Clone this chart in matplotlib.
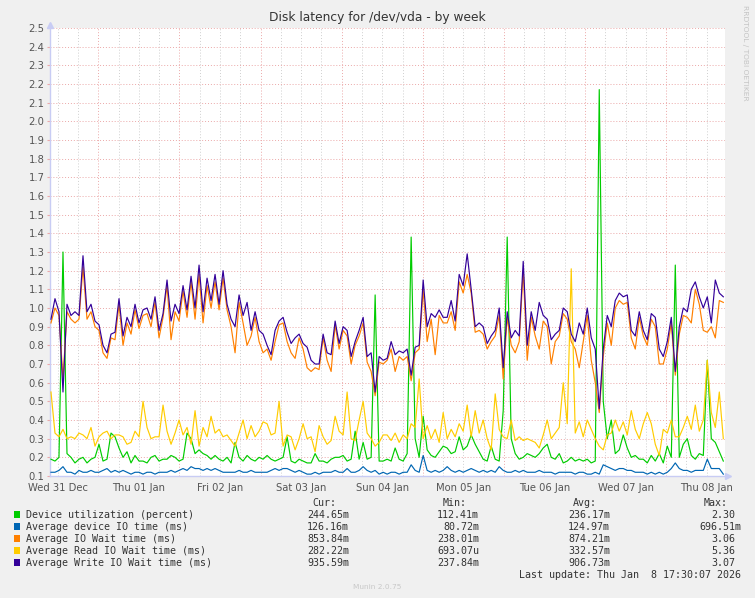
import numpy as np
import matplotlib.pyplot as plt
from matplotlib.patches import Rectangle

# series values (one sample about every 71 minutes)
util = [0.19, 0.18, 0.20, 1.30, 0.22, 0.20, 0.17, 0.19, 0.20, 0.17, 0.19, 0.20, 0.27, 0.18, 0.19,
        0.33, 0.31, 0.25, 0.20, 0.23, 0.17, 0.21, 0.18, 0.18, 0.17, 0.20, 0.21, 0.18, 0.19,
        0.19, 0.21, 0.20, 0.18, 0.19, 0.33, 0.30, 0.22, 0.24, 0.22, 0.21, 0.19, 0.21, 0.19,
        0.18, 0.20, 0.17, 0.28, 0.20, 0.18, 0.21, 0.19, 0.18, 0.20, 0.19, 0.21, 0.19,
        0.18, 0.19, 0.20, 0.31, 0.18, 0.17, 0.19, 0.18, 0.17, 0.17, 0.22, 0.18, 0.18, 0.17,
        0.19, 0.20, 0.20, 0.21, 0.18, 0.19, 0.34, 0.19, 0.28, 0.19, 0.20, 1.07, 0.18, 0.18,
        0.19, 0.18, 0.25, 0.19, 0.18, 0.22, 1.38, 0.30, 0.20, 0.42, 0.24, 0.21, 0.20, 0.23,
        0.26, 0.25, 0.22, 0.23, 0.31, 0.24, 0.26, 0.32, 0.27, 0.23, 0.19, 0.18, 0.26, 0.19,
        0.18, 0.45, 1.38, 0.30, 0.22, 0.19, 0.20, 0.22, 0.21, 0.20, 0.22, 0.25, 0.27, 0.20,
        0.19, 0.22, 0.17, 0.18, 0.20, 0.18, 0.19, 0.18, 0.19, 0.17, 0.18, 2.17, 0.50, 0.30,
        0.40, 0.22, 0.24, 0.32, 0.25, 0.20, 0.21, 0.19, 0.19, 0.17, 0.21, 0.18, 0.22, 0.17,
        0.26, 0.20, 1.23, 0.20, 0.27, 0.30, 0.21, 0.19, 0.22, 0.21, 0.72, 0.30, 0.28, 0.23, 0.18]

dev_io = [0.12, 0.12, 0.13, 0.15, 0.12, 0.12, 0.11, 0.13, 0.12, 0.12, 0.13, 0.12, 0.12, 0.13, 0.14,
          0.12, 0.13, 0.12, 0.13, 0.12, 0.11, 0.12, 0.12, 0.11, 0.12, 0.12, 0.11, 0.12, 0.12,
          0.12, 0.13, 0.12, 0.13, 0.14, 0.13, 0.15, 0.14, 0.14, 0.13, 0.14, 0.13, 0.14, 0.13,
          0.12, 0.12, 0.12, 0.12, 0.13, 0.12, 0.12, 0.13, 0.12, 0.12, 0.12, 0.12, 0.13,
          0.14, 0.13, 0.14, 0.14, 0.13, 0.12, 0.13, 0.12, 0.11, 0.11, 0.12, 0.11, 0.12, 0.12,
          0.12, 0.13, 0.12, 0.12, 0.14, 0.12, 0.12, 0.13, 0.15, 0.13, 0.12, 0.13, 0.11, 0.12,
          0.11, 0.12, 0.12, 0.11, 0.12, 0.12, 0.16, 0.13, 0.12, 0.21, 0.13, 0.12, 0.13, 0.12,
          0.13, 0.15, 0.13, 0.12, 0.13, 0.12, 0.13, 0.14, 0.13, 0.12, 0.13, 0.12, 0.13, 0.12,
          0.15, 0.13, 0.12, 0.12, 0.13, 0.12, 0.13, 0.12, 0.12, 0.12, 0.13, 0.12, 0.12, 0.12,
          0.11, 0.12, 0.12, 0.12, 0.12, 0.11, 0.12, 0.12, 0.11, 0.11, 0.12, 0.11, 0.16, 0.15,
          0.14, 0.13, 0.14, 0.14, 0.13, 0.13, 0.12, 0.12, 0.12, 0.11, 0.12, 0.11, 0.12, 0.11,
          0.12, 0.14, 0.17, 0.14, 0.13, 0.13, 0.12, 0.13, 0.13, 0.13, 0.19, 0.14, 0.14, 0.14, 0.11]

io_wait = [0.92, 1.00, 0.96, 0.62, 0.98, 0.94, 0.92, 0.94, 1.22, 0.94, 0.98, 0.90, 0.88, 0.76, 0.73,
           0.84, 0.83, 1.02, 0.80, 0.92, 0.86, 0.99, 0.89, 0.96, 0.97, 0.90, 1.03, 0.84, 0.95,
           1.12, 0.83, 0.98, 0.93, 1.09, 0.95, 1.14, 0.94, 1.18, 0.92, 1.12, 1.00, 1.14, 0.99,
           1.16, 0.99, 0.90, 0.76, 1.03, 0.92, 0.80, 0.85, 0.95, 0.82, 0.76, 0.78, 0.72,
           0.82, 0.91, 0.92, 0.82, 0.76, 0.73, 0.84, 0.78, 0.68, 0.66, 0.68, 0.67, 0.84, 0.72,
           0.66, 0.91, 0.78, 0.88, 0.85, 0.70, 0.80, 0.85, 0.92, 0.71, 0.66, 0.53, 0.71, 0.70,
           0.72, 0.78, 0.66, 0.74, 0.72, 0.74, 0.61, 0.76, 0.78, 1.10, 0.82, 0.94, 0.75, 0.96,
           0.92, 0.92, 0.98, 0.88, 1.14, 1.08, 1.18, 1.08, 0.87, 0.88, 0.86, 0.78, 0.82, 0.85,
           0.96, 0.62, 0.95, 0.80, 0.76, 0.82, 1.20, 0.72, 0.95, 0.85, 0.78, 0.93, 0.90, 0.70,
           0.82, 0.85, 0.97, 0.94, 0.82, 0.78, 0.68, 0.82, 0.96, 0.72, 0.60, 0.44, 0.74, 0.92,
           0.80, 1.00, 1.04, 1.02, 1.03, 0.84, 0.78, 0.95, 0.85, 0.80, 0.94, 0.90, 0.70, 0.70,
           0.78, 0.92, 0.64, 0.86, 0.96, 0.95, 0.92, 1.10, 1.02, 0.88, 0.87, 0.90, 0.84, 1.04, 1.03]

read_wait = [0.55, 0.33, 0.31, 0.35, 0.30, 0.31, 0.30, 0.33, 0.32, 0.30, 0.36, 0.26, 0.31, 0.33, 0.34,
             0.30, 0.32, 0.32, 0.31, 0.27, 0.28, 0.34, 0.31, 0.50, 0.36, 0.30, 0.31, 0.31, 0.48,
             0.34, 0.27, 0.33, 0.40, 0.32, 0.36, 0.27, 0.45, 0.26, 0.36, 0.31, 0.42, 0.33, 0.35,
             0.31, 0.32, 0.29, 0.26, 0.33, 0.40, 0.30, 0.37, 0.31, 0.34, 0.39, 0.38, 0.32,
             0.33, 0.50, 0.26, 0.32, 0.31, 0.24, 0.30, 0.38, 0.30, 0.31, 0.23, 0.37, 0.31, 0.27,
             0.29, 0.42, 0.34, 0.32, 0.55, 0.30, 0.29, 0.40, 0.50, 0.33, 0.30, 0.26, 0.28, 0.32,
             0.32, 0.29, 0.33, 0.28, 0.32, 0.30, 0.38, 0.36, 0.62, 0.30, 0.37, 0.30, 0.35, 0.28,
             0.44, 0.30, 0.35, 0.31, 0.38, 0.34, 0.48, 0.31, 0.45, 0.33, 0.40, 0.30, 0.24, 0.54,
             0.35, 0.31, 0.30, 0.40, 0.29, 0.31, 0.29, 0.30, 0.29, 0.28, 0.25, 0.32, 0.40, 0.30,
             0.33, 0.36, 0.60, 0.38, 1.21, 0.33, 0.39, 0.31, 0.40, 0.35, 0.30, 0.26, 0.24, 0.32,
             0.33, 0.40, 0.34, 0.39, 0.32, 0.45, 0.35, 0.30, 0.38, 0.44, 0.38, 0.27, 0.21, 0.35,
             0.33, 0.40, 0.31, 0.31, 0.36, 0.42, 0.35, 0.48, 0.34, 0.40, 0.72, 0.44, 0.36, 0.55, 0.30]

write_wait = [0.94, 1.05, 0.98, 0.55, 1.02, 0.96, 0.98, 0.96, 1.28, 0.98, 1.02, 0.93, 0.91, 0.80, 0.76,
              0.86, 0.87, 1.05, 0.85, 0.95, 0.90, 1.02, 0.92, 0.99, 1.00, 0.94, 1.06, 0.88, 0.97,
              1.15, 0.93, 1.02, 0.97, 1.12, 0.99, 1.17, 1.00, 1.23, 0.98, 1.16, 1.04, 1.18, 1.02,
              1.20, 1.02, 0.94, 0.90, 1.07, 0.96, 1.03, 0.88, 0.98, 0.88, 0.86, 0.80, 0.75,
              0.88, 0.93, 0.95, 0.87, 0.81, 0.84, 0.86, 0.81, 0.79, 0.72, 0.70, 0.70, 0.86, 0.76,
              0.75, 0.93, 0.81, 0.90, 0.88, 0.74, 0.82, 0.88, 0.95, 0.74, 0.76, 0.55, 0.74, 0.72,
              0.73, 0.82, 0.75, 0.77, 0.76, 0.78, 0.64, 0.79, 0.80, 1.15, 0.90, 0.97, 0.95, 0.99,
              0.95, 0.95, 1.04, 0.93, 1.18, 1.12, 1.29, 1.10, 0.90, 0.92, 0.90, 0.81, 0.85, 0.88,
              1.00, 0.68, 0.98, 0.84, 0.88, 0.85, 1.25, 0.80, 0.98, 0.88, 1.03, 0.96, 0.94, 0.83,
              0.86, 0.88, 1.00, 0.98, 0.86, 0.82, 0.92, 0.86, 1.00, 0.84, 0.78, 0.46, 0.78, 0.96,
              0.90, 1.04, 1.08, 1.06, 1.07, 0.88, 0.85, 0.98, 0.88, 0.83, 0.97, 0.95, 0.78, 0.74,
              0.82, 0.95, 0.66, 0.90, 1.00, 0.98, 1.10, 1.14, 1.06, 1.00, 1.06, 0.92, 1.15, 1.08, 1.06]

# hours relative to Thu 01 Jan 00:00
hours = np.linspace(-14.0, 184.9, len(util))

day_labels = ['Wed 31 Dec', 'Thu 01 Jan', 'Fri 02 Jan', 'Sat 03 Jan', 'Sun 04 Jan',
              'Mon 05 Jan', 'Tue 06 Jan', 'Wed 07 Jan', 'Thu 08 Jan']
series_names = ['Device utilization (percent)', 'Average device IO time (ms)',
                'Average IO Wait time (ms)', 'Average Read IO Wait time (ms)',
                'Average Write IO Wait time (ms)']
colors = ['#00CC00', '#0066B3', '#FF8000', '#FFCC00', '#330099']
cur_vals = ['244.65m', '126.16m', '853.84m', '282.22m', '935.59m']
min_vals = ['112.41m', '80.72m', '238.01m', '693.07u', '237.84m']
avg_vals = ['236.17m', '124.97m', '874.21m', '332.57m', '906.73m']
max_vals = ['2.30', '696.51m', '3.06', '5.36', '3.07']

W, H = 755, 598
fig = plt.figure(figsize=(W / 100, H / 100), dpi=100, facecolor='#F0F0F0')
ax = fig.add_axes([50 / W, 122 / H, 675 / W, 448 / H])
ax.set_facecolor('white')

x0, x1 = -14.29, 185.4
ax.set_xlim(x0, x1)
ax.set_ylim(0.1, 2.5)

# grid like rrdtool: red dotted majors, grey dotted minors
major_c = '#EBA8A8'
minor_c = '#CFCFCF'
dots = (0, (1, 2))
for h in np.arange(-12, 186, 6):
    if h % 24 == 0:
        continue
    ax.axvline(h, color=minor_c, lw=0.7, ls=dots, zorder=1)
for h in np.arange(0, 186, 24):
    ax.axvline(h, color=major_c, lw=0.7, ls=dots, zorder=1)
yt = np.round(np.arange(0.1, 2.51, 0.1), 1)
for v in yt[1:]:
    ax.axhline(v, color=major_c, lw=0.7, ls=dots, zorder=1)

all_series = [util, dev_io, io_wait, read_wait, write_wait]
for vals, c in zip(all_series, colors):
    ax.plot(hours, vals, color=c, lw=0.85, zorder=3)

ax.set_yticks(yt)
ax.set_yticklabels([f'{v:.1f}' for v in yt])
ax.set_xticks(np.arange(-12, 181, 24))
ax.set_xticklabels(day_labels)
ax.tick_params(axis='y', length=2, color=major_c, labelsize=7.2, labelcolor='#555555', pad=2)
ax.tick_params(axis='x', length=0, labelsize=7.2, labelcolor='#555555', pad=5)

for s in ['top', 'right']:
    ax.spines[s].set_visible(False)
axis_c = '#C8CCF4'
for s in ['left', 'bottom']:
    ax.spines[s].set_color(axis_c)
    ax.spines[s].set_linewidth(1.0)
ax.plot([x0], [2.516], marker='^', ms=5, color=axis_c, clip_on=False, zorder=5)
ax.plot([x1 + 1.0], [0.1], marker='>', ms=5, color=axis_c, clip_on=False, zorder=5)


def px(x, y):
    return x / W, 1 - y / H


fig.text(*px(377, 18), 'Disk latency for /dev/vda - by week', ha='center', va='center',
         fontsize=8.8, color='#333333')
fig.text(*px(745, 5), 'RRDTOOL / TOBI OETIKER', rotation=270, ha='center', va='top',
         fontsize=5.4, color='#C4C4C4')

mono = 'DejaVu Sans Mono'
fs = 7.2
tc = '#333333'
cw = 6.0
fig.text(*px(336, 503), 'Cur:', ha='right', va='center', family=mono, fontsize=fs, color=tc)
fig.text(*px(467, 503), 'Min:', ha='right', va='center', family=mono, fontsize=fs, color=tc)
fig.text(*px(597, 503), 'Avg:', ha='right', va='center', family=mono, fontsize=fs, color=tc)
fig.text(*px(728, 503), 'Max:', ha='right', va='center', family=mono, fontsize=fs, color=tc)


def right_edge(base, s):
    # values without a unit leave one empty column at the right
    return base if s[-1].isalpha() else base - cw


for i, name in enumerate(series_names):
    yc = 514.5 + 12 * i
    fig.add_artist(Rectangle(px(13.5, yc + 3.5), 6.5 / W, 7 / H, transform=fig.transFigure,
                             facecolor=colors[i], edgecolor='none'))
    fig.text(*px(26, yc), name, ha='left', va='center', family=mono, fontsize=fs, color=tc)
    for base, vals in [(349, cur_vals), (479, min_vals), (610, avg_vals), (741, max_vals)]:
        s = vals[i]
        fig.text(*px(right_edge(base, s), yc), s, ha='right', va='center', family=mono,
                 fontsize=fs, color=tc)

fig.text(*px(741, 574.5), 'Last update: Thu Jan  8 17:30:07 2026', ha='right', va='center',
         family=mono, fontsize=fs, color=tc)
fig.text(*px(377, 587), 'Munin 2.0.75', ha='center', va='center', fontsize=5.3, color='#C8C8C8')

fig.savefig('out.png', dpi=100, facecolor=fig.get_facecolor())
